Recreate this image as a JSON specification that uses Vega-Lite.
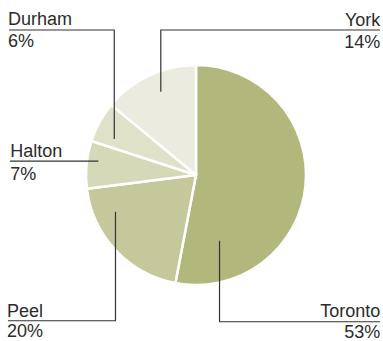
{
  "$schema": "https://vega.github.io/schema/vega-lite/v6.json",
  "width": 374,
  "height": 330,
  "autosize": {"type": "none"},
  "padding": {"left": 9, "top": 10, "right": 0, "bottom": 1},
  "background": "white",
  "config": {"view": {"stroke": null}, "font": "Liberation Sans"},
  "datasets": {
    "slices": [
      {"region": "Toronto", "share": 53, "ord": 1},
      {"region": "Peel", "share": 20, "ord": 2},
      {"region": "Halton", "share": 7, "ord": 3},
      {"region": "Durham", "share": 6, "ord": 4},
      {"region": "York", "share": 14, "ord": 5}
    ],
    "leaders": [
      {"region": "Durham", "seq": 1, "x": -1.70, "y": 1.318},
      {"region": "Durham", "seq": 2, "x": -0.743, "y": 1.318},
      {"region": "Durham", "seq": 3, "x": -0.743, "y": 0.327},
      {"region": "York", "seq": 1, "x": 1.673, "y": 1.318},
      {"region": "York", "seq": 2, "x": -0.32, "y": 1.318},
      {"region": "York", "seq": 3, "x": -0.32, "y": 0.757},
      {"region": "Halton", "seq": 1, "x": -1.691, "y": 0.127},
      {"region": "Halton", "seq": 2, "x": -0.888, "y": 0.127},
      {"region": "Peel", "seq": 1, "x": -1.709, "y": -1.325},
      {"region": "Peel", "seq": 2, "x": -0.732, "y": -1.325},
      {"region": "Peel", "seq": 3, "x": -0.732, "y": -0.334},
      {"region": "Toronto", "seq": 1, "x": 1.673, "y": -1.334},
      {"region": "Toronto", "seq": 2, "x": 0.214, "y": -1.334},
      {"region": "Toronto", "seq": 3, "x": 0.214, "y": -0.597}
    ],
    "labels": [
      {"region": "Durham", "side": "left", "label": "Durham", "x": -1.709, "y": 1.364},
      {"region": "Durham", "side": "left", "label": "6%", "x": -1.709, "y": 1.168},
      {"region": "Halton", "side": "left", "label": "Halton", "x": -1.689, "y": 0.164},
      {"region": "Halton", "side": "left", "label": "7%", "x": -1.689, "y": -0.045},
      {"region": "Peel", "side": "left", "label": "Peel", "x": -1.719, "y": -1.29},
      {"region": "Peel", "side": "left", "label": "20%", "x": -1.719, "y": -1.473},
      {"region": "York", "side": "right", "label": "York", "x": 1.675, "y": 1.355},
      {"region": "York", "side": "right", "label": "14%", "x": 1.675, "y": 1.159},
      {"region": "Toronto", "side": "right", "label": "Toronto", "x": 1.675, "y": -1.294},
      {"region": "Toronto", "side": "right", "label": "53%", "x": 1.675, "y": -1.482}
    ]
  },
  "layer": [
    {
      "data": {"name": "slices"},
      "mark": {"type": "arc", "outerRadius": 110, "stroke": "white", "strokeWidth": 2.5},
      "encoding": {
        "theta": {"field": "share", "type": "quantitative", "stack": true},
        "order": {"field": "ord", "type": "quantitative"},
        "color": {
          "field": "region",
          "type": "nominal",
          "scale": {
            "domain": ["Toronto", "Peel", "Halton", "Durham", "York"],
            "range": ["#b2b87c", "#c4c89b", "#d6d9b8", "#dfe1c9", "#ebecdf"]
          },
          "legend": null
        }
      }
    },
    {
      "data": {"name": "leaders"},
      "mark": {"type": "line", "color": "#333333", "strokeWidth": 1.2},
      "encoding": {
        "x": {"field": "x", "type": "quantitative", "scale": {"domain": [-1.7, 1.7], "nice": false, "zero": false}, "axis": null},
        "y": {"field": "y", "type": "quantitative", "scale": {"domain": [-1.5, 1.5], "nice": false, "zero": false}, "axis": null},
        "detail": {"field": "region"},
        "order": {"field": "seq", "type": "quantitative"}
      }
    },
    {
      "data": {"name": "labels"},
      "transform": [{"filter": "datum.side === 'left'"}],
      "mark": {"type": "text", "align": "left", "baseline": "alphabetic", "fontSize": 18, "color": "#2b2b2b", "font": "Liberation Sans"},
      "encoding": {
        "x": {"field": "x", "type": "quantitative", "scale": {"domain": [-1.7, 1.7], "nice": false, "zero": false}, "axis": null},
        "y": {"field": "y", "type": "quantitative", "scale": {"domain": [-1.5, 1.5], "nice": false, "zero": false}, "axis": null},
        "text": {"field": "label", "type": "nominal"}
      }
    },
    {
      "data": {"name": "labels"},
      "transform": [{"filter": "datum.side === 'right'"}],
      "mark": {"type": "text", "align": "right", "baseline": "alphabetic", "fontSize": 18, "color": "#2b2b2b", "font": "Liberation Sans"},
      "encoding": {
        "x": {"field": "x", "type": "quantitative", "scale": {"domain": [-1.7, 1.7], "nice": false, "zero": false}, "axis": null},
        "y": {"field": "y", "type": "quantitative", "scale": {"domain": [-1.5, 1.5], "nice": false, "zero": false}, "axis": null},
        "text": {"field": "label", "type": "nominal"}
      }
    }
  ]
}
